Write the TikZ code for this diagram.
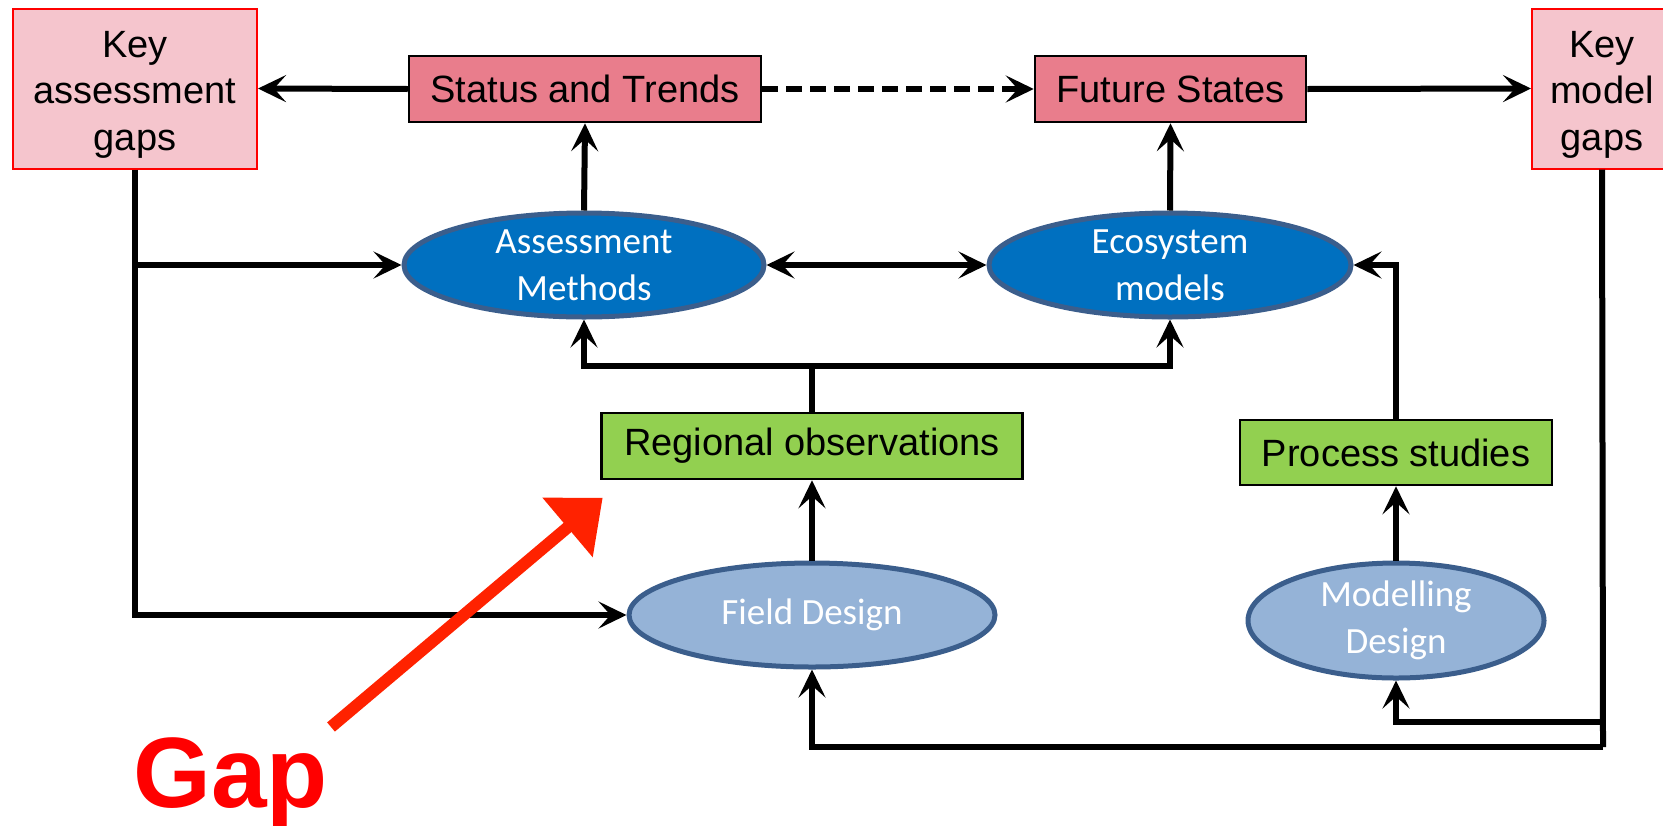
\documentclass[tikz,border=0pt]{standalone}
\usepackage{fontspec}
\setmainfont{Liberation Sans}
\newfontfamily\calfont{Carlito}
\usetikzlibrary{arrows.meta,shapes.geometric}
\definecolor{gappink}{HTML}{F5C5CD}
\definecolor{statepink}{HTML}{E97D8C}
\definecolor{obsgreen}{HTML}{92D050}
\definecolor{darkblue}{HTML}{0070C0}
\definecolor{lightblue}{HTML}{95B3D7}
\definecolor{ellborder}{HTML}{3B5E8C}
\definecolor{gapred}{HTML}{FF2200}
\tikzset{
  boxfont/.style={font=\fontsize{19pt}{23.25pt}\selectfont},
  ellfont/.style={font=\calfont\fontsize{18.5pt}{23.5pt}\selectfont},
  gapbox/.style={draw=red, line width=1pt, fill=gappink, inner sep=0pt, align=center, boxfont},
  statebox/.style={draw=black, line width=1.25pt, fill=statepink, inner sep=0pt, boxfont},
  obsbox/.style={draw=black, line width=1.25pt, fill=obsgreen, inner sep=0pt, boxfont},
  darkell/.style={ellipse, draw=ellborder, line width=2.5pt, fill=darkblue, text=white, inner sep=0pt, align=center, ellfont},
  lightell/.style={ellipse, draw=ellborder, line width=2.5pt, fill=lightblue, text=white, inner sep=0pt, align=center, ellfont},
  wire/.style={line width=3pt},
  conn/.style={line width=3pt, -{Stealth[length=14pt,width=13.5pt,inset=6pt]}},
  dconn/.style={line width=3pt, {Stealth[length=14pt,width=13.5pt,inset=6pt]}-{Stealth[length=14pt,width=13.5pt,inset=6pt]}},
}
\begin{document}
\begin{tikzpicture}[x=0.5pt,y=-0.5pt]
\useasboundingbox (0,0) rectangle (1663,825);
% boxes
\node[gapbox, minimum width=122pt, minimum height=80pt] (kag) at (135,88.5) {\rule{0pt}{19pt}Key\\assessment\\gaps};
\node[gapbox, minimum width=70pt, minimum height=80pt] (kmg) at (1602,88.5) {\rule{0pt}{19pt}Key\\model\\gaps};
\node[statebox, minimum width=176pt, minimum height=33pt] (st) at (585,89) {Status and Trends};
\node[statebox, minimum width=135.5pt, minimum height=33pt] (fs) at (1170.5,89) {Future States};
\node[darkell, minimum width=180pt, minimum height=52pt] (am) at (584,265) {Assessment\\Methods};
\node[darkell, minimum width=181pt, minimum height=52pt] (em) at (1170,265) {Ecosystem\\models};
\node[obsbox, minimum width=210.5pt, minimum height=33pt] (ro) at (812,446) {Regional observations};
\node[obsbox, minimum width=156pt, minimum height=32.5pt] (ps) at (1396,452.5) {Process studies};
\node[lightell, minimum width=183pt, minimum height=52pt] (fd) at (812,615) {Field Design};
\node[lightell, minimum width=148pt, minimum height=57.5pt] (md) at (1396,620.5) {Modelling\\Design};
\node[anchor=base west, inner sep=0pt, text=red, font=\fontsize{50pt}{50pt}\selectfont\bfseries] (gap) at (133,807) {Gap};
% top row
\draw[conn] (st.west) -- (kag.east);
\draw[conn, dash pattern=on 8pt off 4pt] (st.east) -- (fs.west);
\draw[conn] (fs.east) -- (kmg.west);
\draw[conn] (am.north) -- (st.south);
\draw[conn] (em.north) -- (fs.south);
\draw[dconn] (am.east) -- (em.west);
% left feedback
\draw[conn] (kag.south) |- (fd.west);
\draw[conn] (kag.south |- am.west) -- (am.west);
% regional observations
\coordinate (jn) at (812,366);
\draw[wire] (ro.north) -- (jn);
\draw[conn] (jn) -| (am.south);
\draw[conn] (jn) -| (em.south);
\draw[conn] (fd.north) -- (ro.south);
% process studies
\draw[conn] (md.north) -- (ps.south);
\draw[conn] (ps.north) |- (em.east);
% right feedback
\coordinate (kb) at (1603,747);
\draw[wire] (kmg.south) -- (kb);
\draw[conn] (kb) -| (fd.south);
\draw[conn] (kmg.south |- 0,722) -| (md.south);
% gap arrow
\coordinate (gtail) at (331,727);
\coordinate (ghead) at (602.7,497.8);
\draw[gapred, line width=6pt, -{Triangle[length=23pt,width=37.5pt]}] (gtail) -- (ghead);
\end{tikzpicture}
\end{document}
